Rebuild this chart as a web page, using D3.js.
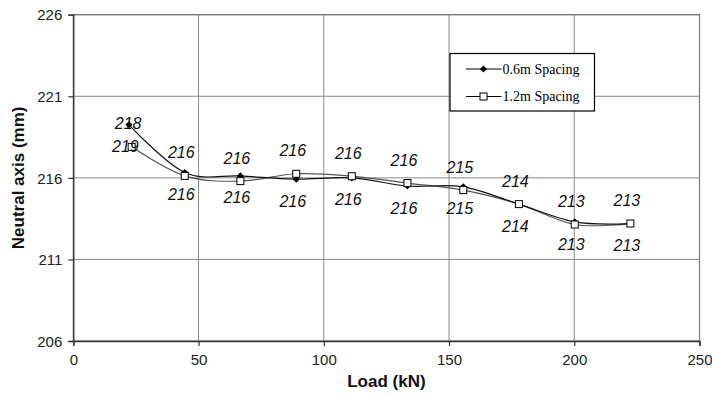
<!DOCTYPE html>
<html>
<head>
<meta charset="utf-8">
<script src="https://cdn.jsdelivr.net/npm/d3@7"></script>
<style>
  html, body { margin: 0; padding: 0; background: #fff; }
  svg { display: block; }
</style>
</head>
<body>
<svg id="chart" width="712" height="396"></svg>
<script>
// ---- data ----
const seriesNames = ["0.6m Spacing", "1.2m Spacing"];
const loads1 = [22.2, 44.5, 66.7, 89.0, 111.2, 133.4, 155.7, 177.9, 200.2, 222.4];
const loads2 = [23.3, 44.5, 66.7, 89.0, 111.2, 133.4, 155.7, 177.9, 200.2, 222.4];
const neutral1 = [219.25, 216.33, 216.12, 215.92, 216.0, 215.5, 215.45, 214.39, 213.3, 213.2];
const neutral2 = [217.9, 216.12, 215.8, 216.25, 216.1, 215.68, 215.25, 214.39, 213.14, 213.2];
const labels1 = ["219", "216", "216", "216", "216", "216", "215", "214", "213", "213"];
const labels2 = ["218", "216", "216", "216", "216", "216", "215", "214", "213", "213"];
const xTicks = [0, 50, 100, 150, 200, 250];
const yTicks = [206, 211, 216, 221, 226];
const xTitle = "Load (kN)";
const yTitle = "Neutral axis (mm)";

// ---- layout ----
const svg = d3.select("#chart");
const x = d3.scaleLinear().domain([0, 250]).range([73.3, 699.5]);
const y = d3.scaleLinear().domain([206, 226]).range([341, 14.7]);

// gridlines
svg.append("g").selectAll("line").data(xTicks.slice(1)).join("line")
  .attr("x1", d => x(d)).attr("x2", d => x(d))
  .attr("y1", y(206)).attr("y2", y(226))
  .attr("stroke", "#8a8a8a").attr("stroke-width", 1);
svg.append("g").selectAll("line").data(yTicks.slice(1)).join("line")
  .attr("x1", x(0)).attr("x2", x(250))
  .attr("y1", d => y(d)).attr("y2", d => y(d))
  .attr("stroke", "#8a8a8a").attr("stroke-width", 1);

// plot border (top/right)
svg.append("rect")
  .attr("x", x(0)).attr("y", y(226))
  .attr("width", x(250) - x(0)).attr("height", y(206) - y(226))
  .attr("fill", "none").attr("stroke", "#777").attr("stroke-width", 1.2);

// axes
const font = "'Liberation Sans', Arial, sans-serif";
const xAxis = svg.append("g").attr("transform", `translate(0,${y(206)})`)
  .call(d3.axisBottom(x).tickValues(xTicks).tickSize(5).tickPadding(8));
const yAxis = svg.append("g").attr("transform", `translate(${x(0)},0)`)
  .call(d3.axisLeft(y).tickValues(yTicks).tickSize(5).tickPadding(6));
[xAxis, yAxis].forEach(a => {
  a.select(".domain").attr("stroke", "#333").attr("stroke-width", 1.3);
  a.selectAll(".tick line").attr("stroke", "#333").attr("stroke-width", 1.2);
  a.selectAll(".tick text").attr("font-family", font).attr("font-size", 15).attr("fill", "#222");
});
yAxis.selectAll(".tick text").attr("dy", "0.35em");

// axis titles
svg.append("text").attr("x", (x(0) + x(250)) / 2).attr("y", 387)
  .attr("text-anchor", "middle").attr("font-family", font).attr("font-weight", "bold")
  .attr("font-size", 17).attr("fill", "#111").text(xTitle);
svg.append("text").attr("transform", `translate(24,${(y(206) + y(226)) / 2}) rotate(-90)`)
  .attr("text-anchor", "middle").attr("font-family", font).attr("font-weight", "bold")
  .attr("font-size", 17).attr("fill", "#111").text(yTitle);

// lines
const pts1 = loads1.map((l, i) => [l, neutral1[i]]);
const pts2 = loads2.map((l, i) => [l, neutral2[i]]);
const line = d3.line().x(d => x(d[0])).y(d => y(d[1])).curve(d3.curveCatmullRom.alpha(0));
svg.append("path").attr("d", line(pts2)).attr("fill", "none").attr("stroke", "#555").attr("stroke-width", 1.2);
svg.append("path").attr("d", line(pts1)).attr("fill", "none").attr("stroke", "#111").attr("stroke-width", 1.2);

// markers
const diamondSize = 5;
svg.append("g").selectAll("rect").data(pts1).join("rect")
  .attr("transform", d => `translate(${x(d[0])},${y(d[1])}) rotate(45)`)
  .attr("x", -diamondSize / 2).attr("y", -diamondSize / 2)
  .attr("width", diamondSize).attr("height", diamondSize).attr("fill", "#000");
svg.append("g").selectAll("rect").data(pts2).join("rect")
  .attr("x", d => x(d[0]) - 3.5).attr("y", d => y(d[1]) - 3.5)
  .attr("width", 7).attr("height", 7)
  .attr("fill", "#fff").attr("stroke", "#000").attr("stroke-width", 1);

// data labels: 1.2m above, 0.6m below
svg.append("g").selectAll("text").data(pts2).join("text")
  .attr("x", d => x(d[0]) - 3.5).attr("y", d => y(d[1]) - 23)
  .attr("dy", "0.35em").attr("text-anchor", "middle")
  .attr("font-family", font).attr("font-style", "italic").attr("font-size", 16)
  .attr("fill", "#111").text((d, i) => labels2[i]);
svg.append("g").selectAll("text").data(pts1).join("text")
  .attr("x", d => x(d[0]) - 3.5).attr("y", d => y(d[1]) + 22)
  .attr("dy", "0.35em").attr("text-anchor", "middle")
  .attr("font-family", font).attr("font-style", "italic").attr("font-size", 16)
  .attr("fill", "#111").text((d, i) => labels1[i]);

// legend
const lg = svg.append("g").attr("transform", "translate(450,53.5)");
lg.append("rect").attr("width", 144.5).attr("height", 57.5)
  .attr("fill", "#fff").attr("stroke", "#000").attr("stroke-width", 1.2);
const legY = [15.5, 43];
seriesNames.forEach((name, i) => {
  const g = lg.append("g").attr("transform", `translate(0,${legY[i]})`);
  g.append("line").attr("x1", 16).attr("x2", 51.5).attr("stroke", "#000").attr("stroke-width", 1);
  if (i === 0) {
    g.append("rect").attr("transform", "translate(33.5,0) rotate(45)")
      .attr("x", -diamondSize / 2).attr("y", -diamondSize / 2)
      .attr("width", diamondSize).attr("height", diamondSize).attr("fill", "#000");
  } else {
    g.append("rect").attr("x", 30).attr("y", -3.5).attr("width", 7).attr("height", 7)
      .attr("fill", "#fff").attr("stroke", "#000");
  }
  g.append("text").attr("x", 52.5).attr("dy", "0.35em")
    .attr("font-family", "'Liberation Serif', 'Times New Roman', serif").attr("font-size", 14)
    .attr("fill", "#000").text(name);
});
</script>
</body>
</html>
